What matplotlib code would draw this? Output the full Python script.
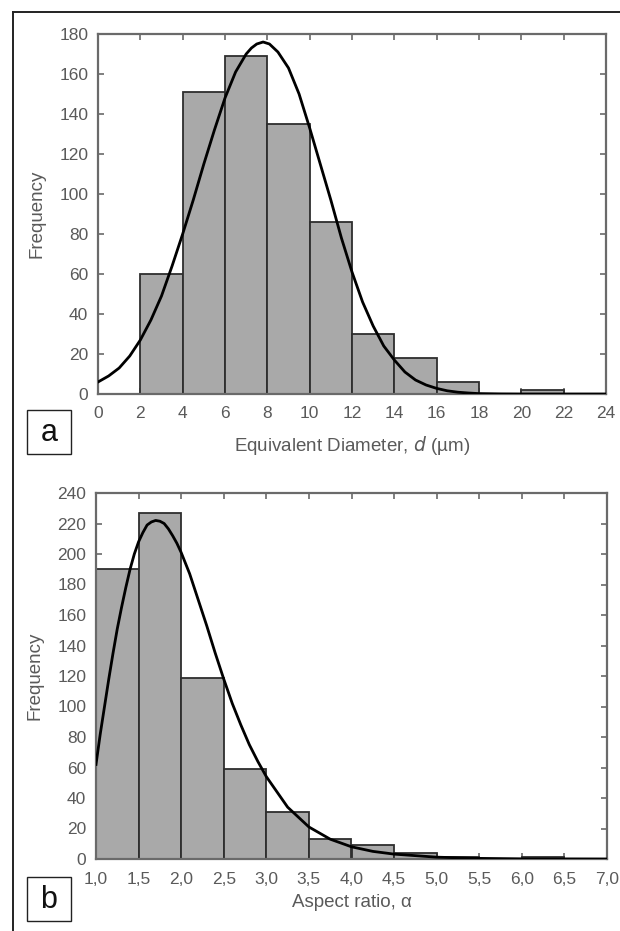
import matplotlib
matplotlib.use("Agg")
import matplotlib.pyplot as plt
from matplotlib.lines import Line2D
from matplotlib.patches import Rectangle

# ---------------- data ----------------
# Panel a: equivalent diameter histogram (bin edges step 2 um)
d_bin_left = [0, 2, 4, 6, 8, 10, 12, 14, 16, 18, 20, 22]
d_counts = [0, 60, 151, 169, 135, 86, 30, 18, 6, 0, 2, 0]
d_bin_width = 2
# fitted curve
d_curve_x = [0, 0.5, 1, 1.5, 2, 2.5, 3, 3.5, 4, 4.5, 5, 5.5, 6, 6.5, 7, 7.25, 7.5, 7.8,
             8.1, 8.5, 9, 9.5, 10, 10.5, 11, 11.5, 12, 12.5, 13, 13.5, 14, 14.5,
             15, 15.5, 16, 16.5, 17, 17.5, 18, 19, 20, 22, 24]
d_curve_y = [6, 9, 13, 19, 27, 37, 49, 64, 80, 97, 115, 132, 148, 161, 170, 173, 175, 176,
             175, 171, 163, 150, 133, 115, 97, 78, 61, 46, 34, 24, 17, 11,
             7, 4.5, 2.8, 1.6, 0.9, 0.5, 0.2, 0.05, 0, 0, 0]
d_xticks = [0, 2, 4, 6, 8, 10, 12, 14, 16, 18, 20, 22, 24]
d_yticks = [0, 20, 40, 60, 80, 100, 120, 140, 160, 180]

# Panel b: aspect ratio histogram (bin width 0.5)
a_bin_left = [1.0, 1.5, 2.0, 2.5, 3.0, 3.5, 4.0, 4.5, 5.0, 5.5, 6.0, 6.5]
a_counts = [190, 227, 119, 59, 31, 13, 9, 4, 1.5, 0, 1.5, 0]
a_bin_width = 0.5
a_curve_x = [1.0, 1.05, 1.1, 1.15, 1.2, 1.25, 1.3, 1.35, 1.4, 1.45, 1.5, 1.55, 1.6,
             1.65, 1.7, 1.75, 1.8, 1.85, 1.9, 1.95, 2.0, 2.1, 2.2, 2.3,
             2.4, 2.5, 2.6, 2.7, 2.8, 2.9, 3.0, 3.25, 3.5, 3.75, 4.0, 4.25, 4.5,
             5.0, 5.5, 6.0, 7.0]
a_curve_y = [62, 82, 100, 118, 135, 151, 165, 178, 190, 200, 208, 214, 219,
             221, 222, 221.5, 220, 216.5, 212, 207, 201, 187, 170, 153,
             135, 118, 102, 88, 75, 64, 54, 34, 21, 13, 8, 5, 3.2,
             1.2, 0.4, 0.1, 0]
a_xticks = [1.0, 1.5, 2.0, 2.5, 3.0, 3.5, 4.0, 4.5, 5.0, 5.5, 6.0, 6.5, 7.0]
a_xticklabels = ["1,0", "1,5", "2,0", "2,5", "3,0", "3,5", "4,0", "4,5", "5,0",
                 "5,5", "6,0", "6,5", "7,0"]
a_yticks = [0, 20, 40, 60, 80, 100, 120, 140, 160, 180, 200, 220, 240]

# ---------------- style ----------------
plt.rcParams['font.family'] = ['Liberation Sans', 'DejaVu Sans']
W, H = 620, 931
fig = plt.figure(figsize=(W / 100, H / 100), dpi=100)

bar_face = '#a9a9a9'
bar_edge = '#2e2e2e'
spine_col = '#6a6a6a'
txt_col = '#5a5a5a'


def px_axes(left, top, right, bottom):
    return fig.add_axes([left / W, 1 - bottom / H, (right - left) / W, (bottom - top) / H])


def style(ax, ylab_x, xlab_y):
    for s in ax.spines.values():
        s.set_color(spine_col)
        s.set_linewidth(1.6)
    ax.tick_params(direction='in', length=4, width=1.2, color=spine_col,
                   top=True, right=True, labelsize=12.5, labelcolor=txt_col)
    ax.tick_params(axis='x', pad=9)
    ax.tick_params(axis='y', pad=7)
    ax.yaxis.set_label_coords(ylab_x, 0.5)
    ax.xaxis.set_label_coords(0.5, xlab_y)
    ax.xaxis.label.set_va('center')
    ax.yaxis.label.set_va('center')


# Panel a
ax1 = px_axes(98, 34, 606, 394)
ax1.bar(d_bin_left, d_counts, width=d_bin_width, align='edge',
        color=bar_face, edgecolor=bar_edge, linewidth=1.3, zorder=2)
ax1.plot(d_curve_x, d_curve_y, color='black', linewidth=2.0, zorder=3)
ax1.set_xlim(0, 24)
ax1.set_ylim(0, 180)
ax1.set_xticks(d_xticks)
ax1.set_yticks(d_yticks)
ax1.set_xlabel('Equivalent Diameter, $\\mathit{d}$ (\u00b5m)', fontsize=13.5, color=txt_col)
ax1.set_ylabel('Frequency', fontsize=13.5, color=txt_col)
style(ax1, -0.12, -0.142)

# Panel b
ax2 = px_axes(96, 493, 607, 859)
ax2.bar(a_bin_left, a_counts, width=a_bin_width, align='edge',
        color=bar_face, edgecolor=bar_edge, linewidth=1.3, zorder=2)
ax2.plot(a_curve_x, a_curve_y, color='black', linewidth=2.0, zorder=3)
ax2.set_xlim(1.0, 7.0)
ax2.set_ylim(0, 240)
ax2.set_xticks(a_xticks)
ax2.set_xticklabels(a_xticklabels)
ax2.set_yticks(a_yticks)
ax2.set_xlabel('Aspect ratio, \u03b1', fontsize=13.5, color=txt_col)
ax2.set_ylabel('Frequency', fontsize=13.5, color=txt_col)
style(ax2, -0.119, -0.12)

# outer frame lines
fig.add_artist(Line2D([13 / W, 1.0], [1 - 12 / H, 1 - 12 / H], color='#222222', linewidth=1.4,
                      transform=fig.transFigure))
fig.add_artist(Line2D([13 / W, 13 / W], [1 - 12 / H, 0.0], color='#222222', linewidth=1.4,
                      transform=fig.transFigure))

# panel letter boxes
for (lx, ty, letter) in [(27, 410, 'a'), (27, 877, 'b')]:
    fig.add_artist(Rectangle((lx / W, 1 - (ty + 44) / H), 44 / W, 44 / H,
                             transform=fig.transFigure, facecolor='white',
                             edgecolor='#222222', linewidth=1.0))
    fig.text((lx + 22) / W, 1 - (ty + 23) / H, letter, fontsize=22,
             ha='center', va='center', color='#111111')

fig.savefig('out.png', dpi=100)
